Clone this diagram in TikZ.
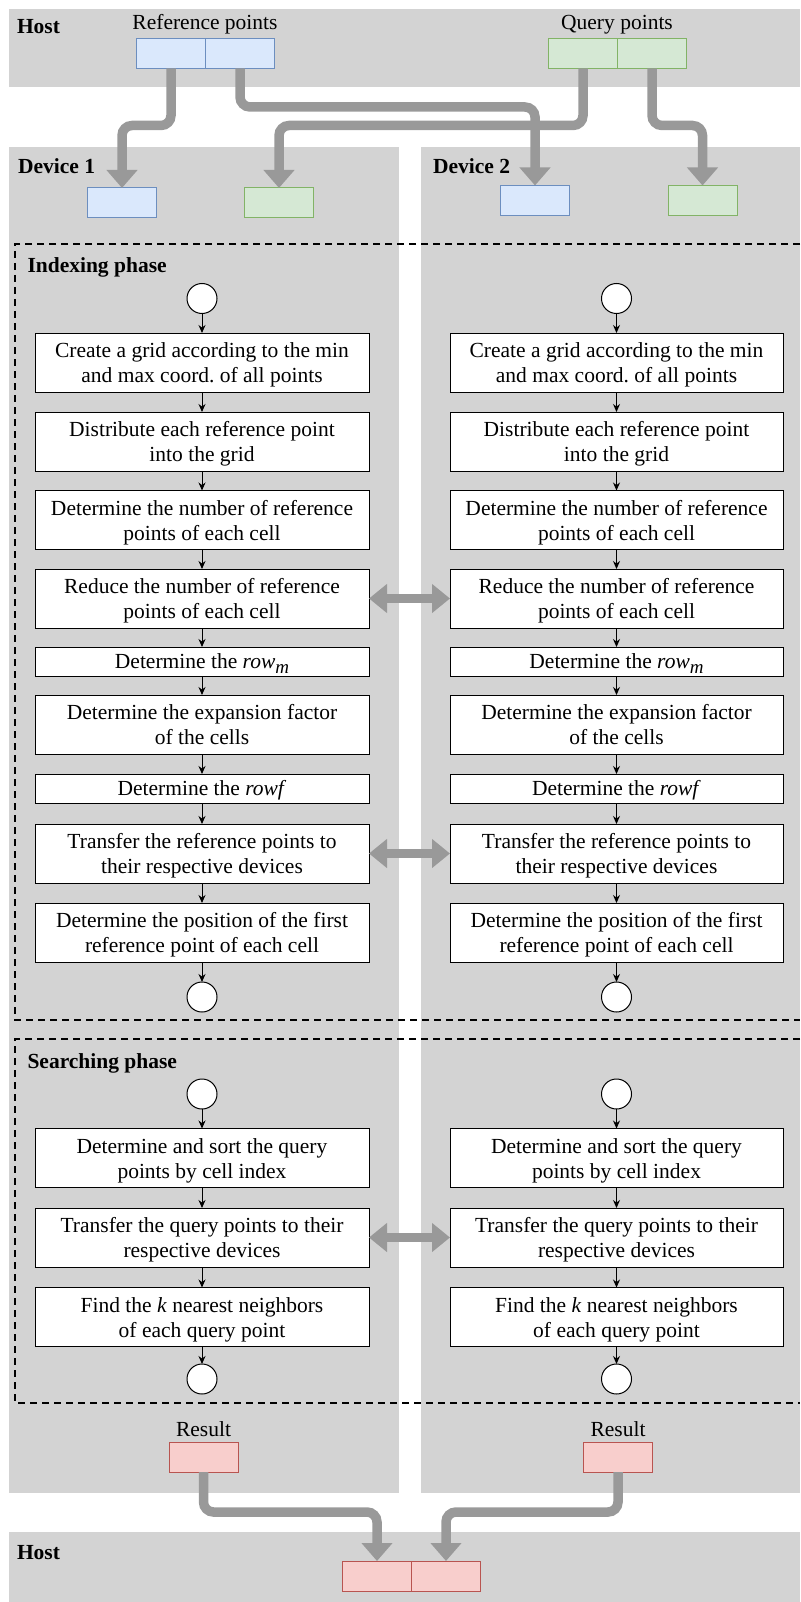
\documentclass[tikz,border=0pt]{standalone}
\usepackage{fontspec}
\setmainfont{Liberation Serif}
\usetikzlibrary{arrows.meta}
\definecolor{panel}{HTML}{D3D3D3}
\definecolor{pipe}{HTML}{999999}
\definecolor{bluefill}{HTML}{DAE8FC}
\definecolor{bluedraw}{HTML}{6C8EBF}
\definecolor{greenfill}{HTML}{D5E8D4}
\definecolor{greendraw}{HTML}{82B366}
\definecolor{redfill}{HTML}{F8CECC}
\definecolor{reddraw}{HTML}{B85450}
\newcommand{\rowsubm}{\textit{row}\raisebox{-5pt}{\fontsize{19}{19}\selectfont\textit{m}}}
\frenchspacing
\begin{document}
\begin{tikzpicture}[x=1pt,y=-1pt,
  font=\fontsize{21.5}{25}\selectfont,
  panelbox/.style={fill=panel, draw=none},
  cellbox/.style={minimum width=69pt, minimum height=30pt, inner sep=0pt, outer sep=0pt, line width=1pt},
  bluecell/.style={cellbox, fill=bluefill, draw=bluedraw},
  greencell/.style={cellbox, fill=greenfill, draw=greendraw},
  redcell/.style={cellbox, fill=redfill, draw=reddraw},
  proc/.style={draw=black, fill=white, line width=1pt, inner sep=0pt, outer sep=0pt, align=center},
  twoline/.style={proc, minimum height=59pt, text height=40.5pt, text depth=0pt},
  oneline/.style={proc, minimum height=29pt, text height=15.5pt, text depth=0.9pt},
  circ/.style={circle, draw=black, fill=white, line width=1pt, minimum size=30pt, inner sep=0pt, outer sep=0pt},
  flow/.style={draw=black, line width=1pt, -{Stealth[length=8pt,width=7pt]}},
  pipeline/.style={draw=pipe, line width=9.5pt, rounded corners=10pt, -{Triangle[width=30pt,length=18pt]}},
  dualpipe/.style={draw=pipe, line width=9.5pt, {Triangle[width=28pt,length=18pt]}-{Triangle[width=28pt,length=18pt]}},
  frame/.style={draw=black, line width=2pt, dash pattern=on 7pt off 5pt},
  lbl/.style={inner sep=0pt, outer sep=0pt, anchor=base},
  boldlbl/.style={inner sep=0pt, outer sep=0pt, anchor=base west, font=\fontsize{21.5}{25}\selectfont\bfseries}
]
\useasboundingbox (0,0) rectangle (800,1602);
% panels
\fill[panelbox] (9,9) rectangle (800,87);
\fill[panelbox] (9,147) rectangle (399,1493);
\fill[panelbox] (421,147) rectangle (800,1493);
\fill[panelbox] (9,1532) rectangle (800,1602);
% dashed phase frames
\draw[frame] (800,244) -- (15,244) -- (15,1020) -- (800,1020);
\draw[frame] (800,1039) -- (15,1039) -- (15,1403) -- (800,1403);
% labels
\node[boldlbl] (hosttop) at (17,33.3) {Host};
\node[boldlbl] (hostbot) at (17,1559) {Host};
\node[boldlbl] (dev1) at (18,174) {Device 1};
\node[boldlbl] (dev2) at (433,174) {Device 2};
\node[boldlbl] (idx) at (27.5,272.7) {Indexing phase};
\node[boldlbl] (srch) at (27.5,1068.3) {Searching phase};
\node[lbl] (reflbl) at (205,30) {Reference points};
\node[lbl] (qrylbl) at (617,30) {Query points};
\node[lbl] (reslbl1) at (203.5,1436) {Result};
\node[lbl] (reslbl2) at (618,1436) {Result};
% data cells
\node[bluecell] (refL) at (171,53.3) {};
\node[bluecell] (refR) at (240,53.3) {};
\node[greencell] (qryL) at (583,53.3) {};
\node[greencell] (qryR) at (652,53.3) {};
\node[bluecell] (d1ref) at (122,203) {};
\node[greencell] (d1qry) at (279,203) {};
\node[bluecell] (d2ref) at (535,200.5) {};
\node[greencell] (d2qry) at (702.5,200.5) {};
\node[redcell] (res1) at (203.5,1457) {};
\node[redcell] (res2) at (618,1457) {};
\node[redcell] (out1) at (377,1576) {};
\node[redcell] (out2) at (446,1576) {};
% process columns
\foreach \c/\x/\w in {L/202/334,R/616.5/333}{
  \node[circ] (\c0) at (\x,298.5) {};
  \node[twoline, minimum width=\w pt] (\c1) at (\x,362.5) {Create a grid according to the min\\and max coord. of all points};
  \node[twoline, minimum width=\w pt] (\c2) at (\x,441.5) {Distribute each reference point\\into the grid};
  \node[twoline, minimum width=\w pt] (\c3) at (\x,520) {Determine the number of reference\\points of each cell};
  \node[twoline, minimum width=\w pt] (\c4) at (\x,598.5) {Reduce the number of reference\\points of each cell};
  \node[oneline, minimum width=\w pt] (\c5) at (\x,661.5) {Determine the \rowsubm};
  \node[twoline, minimum width=\w pt] (\c6) at (\x,724.5) {Determine the expansion factor\\of the cells};
  \node[oneline, minimum width=\w pt] (\c7) at (\x,788.5) {Determine the \textit{rowf}};
  \node[twoline, minimum width=\w pt] (\c8) at (\x,853.5) {Transfer the reference points to\\their respective devices};
  \node[twoline, minimum width=\w pt] (\c9) at (\x,932.5) {Determine the position of the first\\reference point of each cell};
  \node[circ] (\c10) at (\x,997) {};
  \node[circ] (\c11) at (\x,1094) {};
  \node[twoline, minimum width=\w pt] (\c12) at (\x,1158) {Determine and sort the query\\points by cell index};
  \node[twoline, minimum width=\w pt] (\c13) at (\x,1237.5) {Transfer the query points to their\\respective devices};
  \node[twoline, minimum width=\w pt] (\c14) at (\x,1317) {Find the \textit{k} nearest neighbors\\of each query point};
  \node[circ] (\c15) at (\x,1379) {};
  \foreach \a/\b in {0/1,1/2,2/3,3/4,4/5,5/6,6/7,7/8,8/9,9/10,11/12,12/13,13/14,14/15}{
    \draw[flow] (\c\a) -- (\c\b);
  }
}
% exchange arrows between devices
\draw[dualpipe] (L4.east) -- (R4.west);
\draw[dualpipe] (L8.east) -- (R8.west);
\draw[dualpipe] (L13.east) -- (R13.west);
% host -> devices
\draw[pipeline] (refL.south) -- (refL.south |- 0,125.5) -- (d1ref.north |- 0,125.5) -- (d1ref.north);
\draw[pipeline] (refR.south) -- (refR.south |- 0,107) -- (d2ref.north |- 0,107) -- (d2ref.north);
\draw[pipeline] (qryL.south) -- (qryL.south |- 0,125.5) -- (d1qry.north |- 0,125.5) -- (d1qry.north);
\draw[pipeline] (qryR.south) -- (qryR.south |- 0,125.5) -- (d2qry.north |- 0,125.5) -- (d2qry.north);
% devices -> host
\draw[pipeline] (res1.south) -- (res1.south |- 0,1512) -- (out1.north |- 0,1512) -- (out1.north);
\draw[pipeline] (res2.south) -- (res2.south |- 0,1512) -- (out2.north |- 0,1512) -- (out2.north);
\end{tikzpicture}
\end{document}
